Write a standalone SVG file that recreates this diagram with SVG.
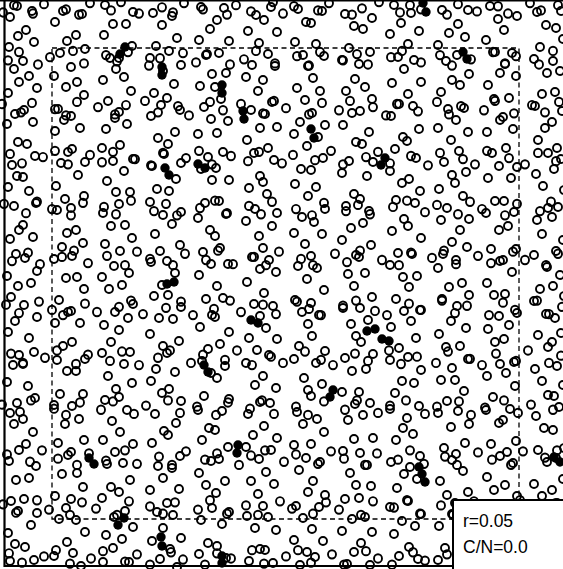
<svg xmlns="http://www.w3.org/2000/svg" xmlns:xlink="http://www.w3.org/1999/xlink" width="563" height="569" viewBox="0 0 563 569">
<style>
.pts{fill:none;stroke:none;marker-start:url(#o);marker-mid:url(#o);marker-end:url(#o)}
.f{fill:#000}
.frame{stroke:#000;fill:none}
.dash{fill:none;stroke:#000;stroke-width:1.3;stroke-dasharray:5 3.5}
.lab{font-family:"Liberation Sans",Arial,sans-serif;font-size:17.5px;fill:#000}
</style>
<defs>
<marker id="o" markerUnits="userSpaceOnUse" markerWidth="12" markerHeight="12" refX="6" refY="6" overflow="visible"><circle cx="6" cy="6" r="4" fill="none" stroke="#000" stroke-width="1.9"/></marker>
<path id="pts" class="pts" d="M3 12 14 5 33 13 44 4 66 9 79 14 90 3 111 10 121 2 139 13 162 7 173 12 184 3 203 9 227 14 236 5 251 11 273 2 283 13 294 6 318 10 329 3 352 14 362 8 379 2 400 12 410 5 421 9 447 14 458 4 477 11 498 6 508 13 530 3 541 10 558 5
M8 58 19 50 38 62 50 55 73 49 84 61 106 53 117 59 128 50 149 63 160 56 183 51 196 60 207 52 230 62 244 57 256 49 275 61 297 54 309 63 320 50 343 58 357 52 368 62 391 55 402 49 421 60 440 53 452 63 471 57 493 50 505 61 516 54 539 62 553 49
M2 100 21 108 32 99 55 105 66 111 77 98 98 103 115 110 126 101 145 97 158 108 178 102 189 111 210 98 223 106 241 100 263 109 274 97 286 104 309 110 322 99 339 106 350 97 373 103 386 111 397 100 418 107 437 98 449 110 461 102 484 106 495 97 514 109 532 101 545 108 559 98
M10 148 22 157 43 151 55 145 68 158 90 149 102 156 113 146 135 153 151 159 163 147 186 152 199 145 212 158 231 150 248 155 259 146 282 157 293 149 315 154 331 145 343 158 366 151 378 146 390 157 411 150 428 159 440 147 463 153 475 158 487 145 509 152 525 158 538 147 556 155
M4 196 26 205 37 194 52 201 71 207 83 195 104 199 116 206 131 193 154 203 166 196 177 207 200 200 215 193 227 205 249 198 261 206 272 194 296 201 312 207 324 195 346 203 358 197 370 206 393 199 407 193 425 204 437 197 458 206 470 194 482 201 505 207 517 196 540 203 551 194
M12 251 28 243 40 254 62 247 74 241 88 253 107 246 125 255 137 242 150 249 173 255 185 244 206 250 218 241 233 254 254 247 266 255 279 242 301 249 313 255 335 244 347 252 360 241 382 250 399 255 411 243 432 248 444 241 456 254 478 246 491 253 513 242 525 250 546 255 558 244
M6 293 19 301 39 290 52 298 63 303 85 292 97 300 119 295 131 289 143 302 166 296 181 290 193 303 214 297 230 289 241 300 263 293 276 302 297 290 309 297 321 303 343 294 356 289 375 299 387 303 409 292 421 298 442 289 455 301 467 294 489 303 503 291 515 298 537 289 549 302 562 295
M11 340 23 349 45 344 57 337 76 350 88 341 110 347 122 338 139 351 158 344 170 337 191 349 203 341 225 346 237 337 252 351 271 343 283 349 305 338 321 346 333 351 355 340 368 347 389 337 401 350 417 343 436 349 448 338 470 345 482 351 496 340 516 347 528 337 549 349 561 342
M2 389 20 396 31 385 54 393 66 399 80 387 101 394 113 386 134 398 146 390 168 385 180 397 197 391 216 399 228 387 250 393 262 385 274 398 296 391 308 399 324 386 345 394 357 385 378 397 390 390 406 385 425 398 437 391 459 386 471 399 485 392 504 385 518 397 531 389 553 394
M7 437 30 444 42 433 58 441 77 447 89 436 106 443 125 433 137 446 159 439 172 447 186 434 205 442 217 436 239 447 251 438 265 433 284 444 296 437 318 446 331 434 344 441 365 447 377 436 398 442 410 433 424 446 445 439 457 447 478 435 492 442 511 447 523 434 545 440 557 433
M3 485 16 493 37 481 49 490 70 495 82 483 96 489 117 495 129 482 150 487 163 494 175 483 198 490 210 481 227 494 246 486 258 495 280 482 292 489 313 494 326 483 339 490 361 495 373 482 394 488 407 481 420 494 441 486 453 495 474 482 487 489 502 495 520 481 534 490 555 484
M9 532 22 541 44 535 56 529 70 542 91 537 103 530 125 540 137 533 150 543 171 531 183 538 205 543 217 532 231 537 252 529 264 542 286 535 298 529 311 541 332 533 344 543 366 530 378 537 392 543 413 531 425 539 447 533 459 542 481 529 493 537 508 543 527 532 539 540 558 534"/>
</defs>
<g id="open-particles">
<use xlink:href="#pts" href="#pts" transform="matrix(1 0 0 1.04 0 0)"/>
<use xlink:href="#pts" href="#pts" transform="matrix(0 1 1 0 5 3)"/>
<use xlink:href="#pts" href="#pts" transform="matrix(0 -1 -1 0 566 569)"/>
</g>
<g id="filled-particles" class="f">
<circle cx="125" cy="47" r="4.7"/><circle cx="120" cy="54" r="4.7"/>
<circle cx="162" cy="67" r="4.7"/><circle cx="162" cy="75" r="4.7"/>
<circle cx="222" cy="85" r="4.7"/><circle cx="222" cy="93" r="4.7"/>
<circle cx="243" cy="111" r="4.7"/><circle cx="244" cy="119" r="4.7"/>
<circle cx="311" cy="129" r="4.7"/><circle cx="314" cy="138" r="4.7"/>
<circle cx="165" cy="168" r="4.7"/><circle cx="169" cy="175" r="4.7"/>
<circle cx="198" cy="164" r="4.7"/><circle cx="205" cy="168" r="4.7"/>
<circle cx="423" cy="3" r="4.7"/><circle cx="426" cy="12" r="4.7"/>
<circle cx="463" cy="52" r="4.7"/><circle cx="467" cy="59" r="4.7"/>
<circle cx="385" cy="158" r="4.7"/><circle cx="381" cy="165" r="4.7"/>
<circle cx="167" cy="284" r="4.7"/><circle cx="174" cy="282" r="4.7"/>
<circle cx="251" cy="320" r="4.7"/><circle cx="258" cy="323" r="4.7"/>
<circle cx="367" cy="331" r="4.7"/><circle cx="375" cy="329" r="4.7"/><circle cx="382" cy="339" r="4.7"/><circle cx="389" cy="341" r="4.7"/>
<circle cx="204" cy="365" r="4.7"/><circle cx="208" cy="372" r="4.7"/>
<circle cx="333" cy="390" r="4.7"/><circle cx="330" cy="397" r="4.7"/>
<circle cx="89" cy="458" r="4.7"/><circle cx="94" cy="464" r="4.7"/>
<circle cx="124" cy="518" r="4.7"/><circle cx="118" cy="525" r="4.7"/>
<circle cx="161" cy="537" r="4.7"/><circle cx="162" cy="546" r="4.7"/>
<circle cx="238" cy="445" r="4.7"/><circle cx="237" cy="453" r="4.7"/>
<circle cx="222" cy="556" r="4.7"/><circle cx="222" cy="563" r="4.7"/>
<circle cx="419" cy="467" r="4.7"/><circle cx="422" cy="474" r="4.7"/><circle cx="425" cy="482" r="4.7"/>
<circle cx="554" cy="457" r="4.7"/><circle cx="560" cy="462" r="4.7"/>
</g>
<g id="inner-region">
<rect class="dash" x="52" y="48" width="467" height="471"/>
</g>
<g id="frame">
<line class="frame" x1="4.5" y1="0" x2="4.5" y2="567" stroke-width="2.2"/>
<line class="frame" x1="0" y1="0.75" x2="563" y2="0.75" stroke-width="1.5"/>
<line class="frame" x1="4" y1="566" x2="563" y2="566" stroke-width="2"/>
</g>
<g id="legend">
<rect x="453" y="500" width="115" height="70" fill="#fff" stroke="#000" stroke-width="2"/>
<text class="lab" x="463" y="527">r=0.05</text>
<text class="lab" x="463" y="553">C/N=0.0</text>
</g>
</svg>
